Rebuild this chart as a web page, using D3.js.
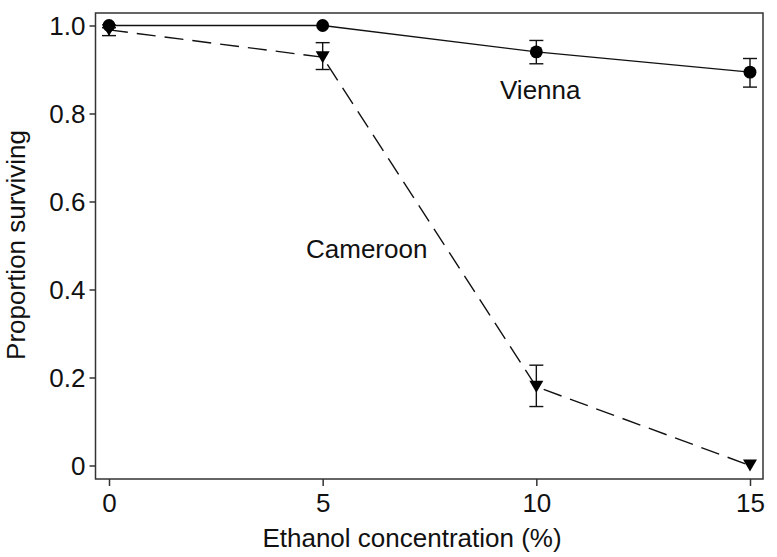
<!DOCTYPE html>
<html>
<head>
<meta charset="utf-8">
<script src="https://cdn.jsdelivr.net/npm/d3@7"></script>
<style>
body { margin: 0; background: #fff; }
text { font-family: "Liberation Sans", Arial, sans-serif; fill: #111; }
</style>
</head>
<body>
<div id="chart"></div>
<script>
var concentrations = [0, 5, 10, 15];
var viennaMean = [1.0, 1.0, 0.94, 0.894];
var viennaLow = [1.0, 1.0, 0.913, 0.86];
var viennaHigh = [1.0, 1.0, 0.966, 0.925];
var cameroonMean = [0.99, 0.928, 0.179, 0.0];
var cameroonLow = [0.977, 0.90, 0.134, 0.0];
var cameroonHigh = [0.995, 0.961, 0.228, 0.0];
var xTicks = [0, 5, 10, 15];
var yTicks = [0, 0.2, 0.4, 0.6, 0.8, 1.0];

var width = 777, height = 557;
var frame = {left: 95.5, top: 13, right: 763, bottom: 479};
var fontSize = "26px";

var svg = d3.select("#chart").append("svg")
	.attr("width", width)
	.attr("height", height);

var x = d3.scaleLinear().domain([0, 15]).range([109, 750]);
var y = d3.scaleLinear().domain([0, 1]).range([465.5, 25.5]);

// frame
svg.append("rect")
	.attr("x", frame.left)
	.attr("y", frame.top)
	.attr("width", frame.right - frame.left)
	.attr("height", frame.bottom - frame.top)
	.attr("fill", "none")
	.attr("stroke", "#333")
	.attr("stroke-width", 1.5);

var yAxis = svg.append("g")
	.attr("transform", "translate(" + frame.left + ",0)")
	.call(d3.axisLeft(y).tickValues(yTicks).tickSize(6).tickPadding(4)
		.tickFormat(function(d) { return d === 0 ? "0" : d3.format(".1f")(d); }));

var xAxis = svg.append("g")
	.attr("transform", "translate(0," + frame.bottom + ")")
	.call(d3.axisBottom(x).tickValues(xTicks).tickSize(7).tickPadding(8));

[xAxis, yAxis].forEach(function(a) {
	a.select(".domain").remove();
	a.selectAll(".tick line").attr("stroke", "#333").attr("stroke-width", 1.5);
	a.selectAll(".tick text").style("font-size", fontSize).attr("fill", "#111")
		.style("font-family", "'Liberation Sans', Arial, sans-serif");
});
yAxis.selectAll(".tick text").attr("dy", "0.36em");

var line = d3.line()
	.x(function(d) { return x(d[0]); })
	.y(function(d) { return y(d[1]); });

function drawSeries(mean, low, high, dashed, marker) {
	var pts = concentrations.map(function(c, i) { return [c, mean[i]]; });
	svg.append("path")
		.datum(pts)
		.attr("d", line)
		.attr("fill", "none")
		.attr("stroke", "#111")
		.attr("stroke-width", 1.4)
		.attr("stroke-dasharray", dashed ? "19,9" : null);

	var bars = svg.append("g");
	concentrations.forEach(function(c, i) {
		if (high[i] - low[i] < 0.001) return;
		var cx = x(c);
		bars.append("line").attr("x1", cx).attr("x2", cx)
			.attr("y1", y(high[i])).attr("y2", y(low[i]));
		bars.append("line").attr("x1", cx - 7).attr("x2", cx + 7)
			.attr("y1", y(high[i])).attr("y2", y(high[i]));
		bars.append("line").attr("x1", cx - 7).attr("x2", cx + 7)
			.attr("y1", y(low[i])).attr("y2", y(low[i]));
	});
	bars.selectAll("line").attr("stroke", "#111").attr("stroke-width", 1.4);

	svg.append("g").selectAll("path")
		.data(pts)
		.enter().append("path")
		.attr("transform", function(d) { return "translate(" + x(d[0]) + "," + y(d[1]) + ")"; })
		.attr("d", marker === "circle"
			? d3.symbol().type(d3.symbolCircle).size(130)()
			: "M-7,-6L7,-6L0,6Z")
		.attr("fill", "#000");
}

drawSeries(viennaMean, viennaLow, viennaHigh, false, "circle");
drawSeries(cameroonMean, cameroonLow, cameroonHigh, true, "triangle");

svg.append("text").attr("x", 500).attr("y", 99)
	.style("font-size", fontSize).text("Vienna");
svg.append("text").attr("x", 306).attr("y", 258)
	.style("font-size", fontSize).text("Cameroon");

svg.append("text")
	.attr("x", 412).attr("y", 547)
	.attr("text-anchor", "middle")
	.style("font-size", fontSize)
	.text("Ethanol concentration (%)");

svg.append("text")
	.attr("transform", "translate(25,245) rotate(-90)")
	.attr("text-anchor", "middle")
	.style("font-size", fontSize)
	.text("Proportion surviving");
</script>
</body>
</html>
